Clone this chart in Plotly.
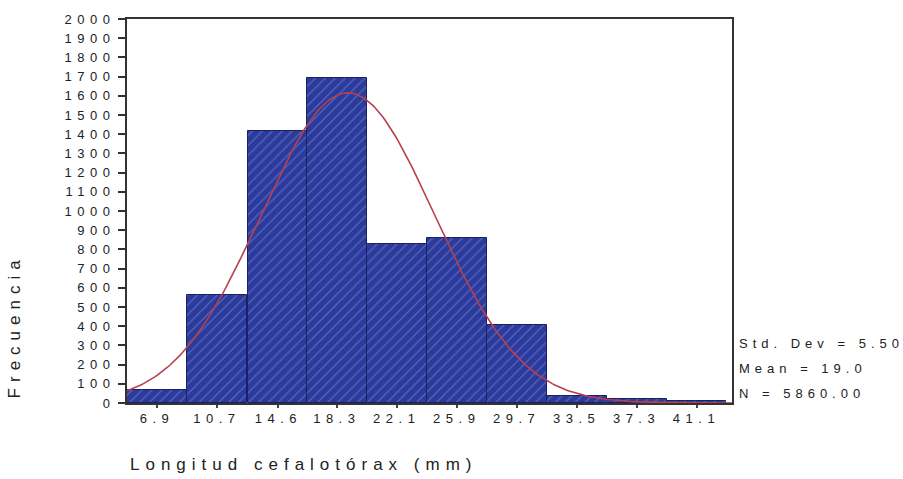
import numpy as np
import plotly.graph_objects as go

# Histogram of carapace length (bin midpoints in mm) and frequencies
bin_mid = [6.9, 10.7, 14.6, 18.3, 22.1, 25.9, 29.7, 33.5, 37.3, 41.1]
bin_labels = ["6.9", "10.7", "14.6", "18.3", "22.1", "25.9", "29.7", "33.5", "37.3", "41.1"]
freq = [70, 565, 1415, 1695, 830, 860, 405, 35, 20, 8]

# Summary statistics shown beside the chart
std_dev = 5.50
mean = 19.0
n_total = 5860.00
bin_width = 3.8

y_ticks = list(range(0, 2001, 100))
x_range = [5.0, 43.35]

# Fitted normal curve scaled to the histogram counts
xc = np.linspace(x_range[0], x_range[1], 240)
yc = n_total * bin_width / (std_dev * np.sqrt(2 * np.pi)) * np.exp(-0.5 * ((xc - mean) / std_dev) ** 2)

fig = go.Figure()
fig.add_trace(go.Bar(
    x=bin_mid, y=freq, width=bin_width,
    marker=dict(color="#2b3a9b",
                line=dict(color="#1b2160", width=1),
                pattern=dict(shape="/", fgcolor="#7d92e0", size=7, solidity=0.18)),
    showlegend=False,
))
fig.add_trace(go.Scatter(
    x=xc, y=yc, mode="lines",
    line=dict(color="#b8404e", width=1.6),
    showlegend=False,
))

tick_font = dict(family="Liberation Sans", size=13, color="#222")
fig.update_layout(
    width=903, height=479,
    margin=dict(l=127, r=171, t=15, b=76),
    paper_bgcolor="white", plot_bgcolor="white",
    bargap=0,
    xaxis=dict(range=x_range, tickvals=bin_mid, ticktext=bin_labels,
               showgrid=False, zeroline=False,
               showline=True, linecolor="#333", linewidth=1.5, mirror=True,
               ticks="outside", ticklen=3, tickwidth=2, tickcolor="#444",
               tickfont=tick_font),
    yaxis=dict(range=[0, 2000], tickvals=y_ticks, ticktext=[str(v) for v in y_ticks],
               showgrid=False, zeroline=False,
               showline=True, linecolor="#333", linewidth=2, mirror=True,
               ticks="outside", ticklen=7, tickwidth=2, tickcolor="#333",
               tickfont=tick_font),
)

note_font = dict(family="Liberation Sans", size=13, color="#222")
stats_lines = [f"Std. Dev = {std_dev:.2f}", f"Mean = {mean:.1f}", f"N = {n_total:.2f}"]
for i, txt in enumerate(stats_lines):
    fig.add_annotation(text=txt, xref="paper", yref="paper",
                       x=1.0083, y=0.1546 - i * 0.0644,
                       xanchor="left", yanchor="middle", showarrow=False,
                       font=note_font)

fig.add_annotation(text="Longitud cefalotórax (mm)", xref="paper", yref="paper",
                   x=0.0017, y=-0.1598, xanchor="left", yanchor="middle",
                   showarrow=False,
                   font=dict(family="Liberation Sans", size=17, color="#222"))
fig.add_annotation(text="Frecuencia", xref="paper", yref="paper",
                   x=-0.1868, y=0.008, textangle=-90,
                   xanchor="center", yanchor="bottom", showarrow=False,
                   font=dict(family="Liberation Sans", size=17, color="#222"))

# Wide letter spacing for the chart's lettering; annotation text is pinned
# at its start so the extra spacing grows away from the anchor point
spacing_js = """
var gd = document.getElementById('{plot_id}');
function spread() {
  gd.querySelectorAll('.xtick text, .ytick text').forEach(function(t){ t.style.letterSpacing = '5.5px'; });
  gd.querySelectorAll('.annotation-text').forEach(function(t){
    if (t.getAttribute('data-spread')) return;
    var bb = t.getBBox();
    t.setAttribute('text-anchor', 'start');
    t.setAttribute('x', bb.x);
    var fs = parseFloat(t.style.fontSize || '13');
    t.style.letterSpacing = (fs > 15 ? '6px' : '5px');
    t.setAttribute('data-spread', '1');
  });
}
spread();
gd.on('plotly_afterplot', spread);
"""

fig.write_html("out.html", post_script=spacing_js)
